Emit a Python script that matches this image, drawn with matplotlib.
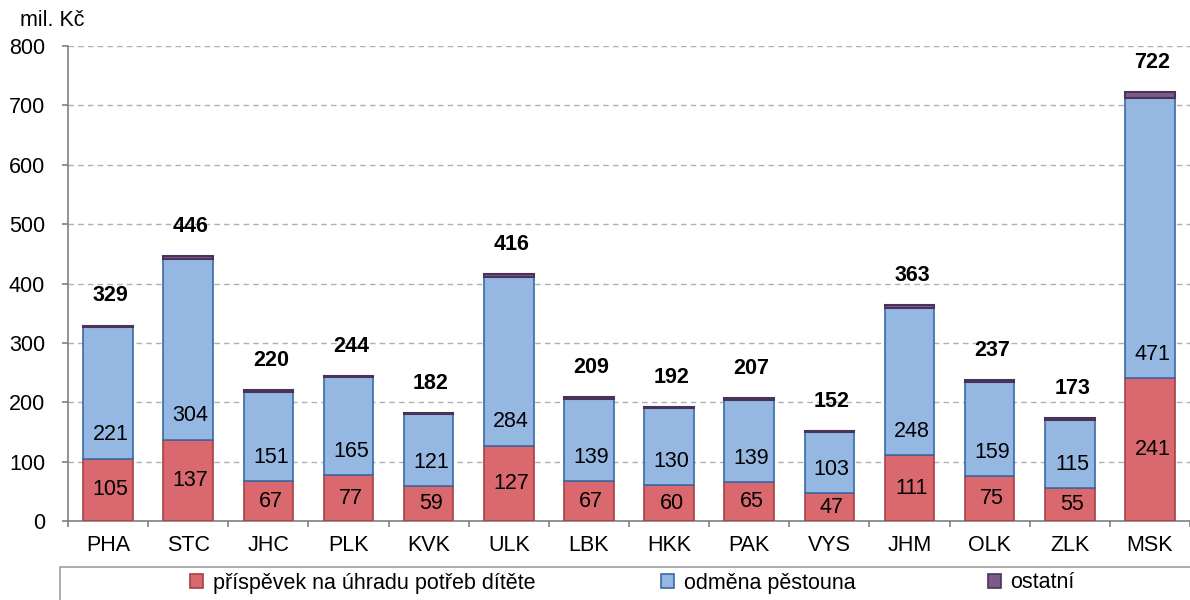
import matplotlib
matplotlib.use('Agg')
import numpy as np
import matplotlib.pyplot as plt
from matplotlib.patches import Rectangle, Patch

plt.rcParams['font.family'] = ['Liberation Sans', 'DejaVu Sans']

kraje = ['PHA', 'STC', 'JHC', 'PLK', 'KVK', 'ULK', 'LBK', 'HKK', 'PAK', 'VYS', 'JHM', 'OLK', 'ZLK', 'MSK']
prispevek = [105, 137, 67, 77, 59, 127, 67, 60, 65, 47, 111, 75, 55, 241]
odmena = [221, 304, 151, 165, 121, 284, 139, 130, 139, 103, 248, 159, 115, 471]
celkem = [329, 446, 220, 244, 182, 416, 209, 192, 207, 152, 363, 237, 173, 722]
ostatni = [c - p - o for c, p, o in zip(celkem, prispevek, odmena)]

nazvy = ['příspěvek na úhradu potřeb dítěte', 'odměna pěstouna', 'ostatní']
barvy = ['#D9686F', '#95B8E3', '#7E5A8A']
okraje = ['#A8403F', '#3A68A6', '#4A3358']

fs = 15.5

fig = plt.figure(figsize=(11.9, 6), dpi=100)
ax = fig.add_axes([68/1190, 1-521/600, 1-68/1190, (521-46)/600])

x = np.arange(len(kraje))
w = 0.62
ax.bar(x, prispevek, w, color=barvy[0], edgecolor=okraje[0], linewidth=1.2, zorder=3)
ax.bar(x, odmena, w, bottom=prispevek, color=barvy[1], edgecolor=okraje[1], linewidth=1.2, zorder=3)
dno = np.array(prispevek) + np.array(odmena)
ax.bar(x, ostatni, w, bottom=dno, color=barvy[2], edgecolor=okraje[2], linewidth=1.5, zorder=3)

for i in range(len(kraje)):
    ax.text(x[i] + 0.03, prispevek[i] / 2, str(prispevek[i]), ha='center', va='center', fontsize=fs, zorder=4)
    ax.text(x[i] + 0.03, prispevek[i] + 40, str(odmena[i]), ha='center', va='center', fontsize=fs, zorder=4)
    ax.text(x[i] + 0.03, celkem[i] + 50, str(celkem[i]), ha='center', va='center', fontsize=fs,
            fontweight='bold', zorder=4)

ax.set_xlim(-0.5, len(kraje) - 0.6)
ax.set_ylim(0, 800)
ax.set_yticks(range(0, 801, 100))
ax.yaxis.grid(True, linestyle=(0, (4, 3)), color='#B0B0B0', linewidth=1, zorder=0)
ax.set_xticks(x)
ax.set_xticklabels(kraje, fontsize=fs)
ax.set_xticks(np.arange(-0.5, len(kraje)), minor=True)
ax.tick_params(axis='x', which='major', length=0, pad=10)
ax.tick_params(axis='x', which='minor', length=4.5, color='#808080', width=1.2)
ax.tick_params(axis='y', labelsize=fs, length=4.5, color='#808080', width=1.2, pad=12)
for s in ['top', 'right']:
    ax.spines[s].set_visible(False)
for s in ['left', 'bottom']:
    ax.spines[s].set_color('#808080')
    ax.spines[s].set_linewidth(1.2)

fig.text(20/1190, 1-20/600, 'mil. Kč', fontsize=fs, va='center', ha='left')

# rámeček legendy
fig.patches.append(Rectangle((60/1190, -0.1), 1.0, 0.1 + (600-567)/600, transform=fig.transFigure,
                             facecolor='white', edgecolor='#A0A0A0', linewidth=1.2))
pozice = [190/1190, 661/1190, 988/1190]
for nazev, bc, ec, px in zip(nazvy, barvy, okraje, pozice):
    fig.legend([Patch(facecolor=bc, edgecolor=ec, linewidth=1.2)], [nazev], loc='center left',
               bbox_to_anchor=(px, 1-583/600), frameon=False, fontsize=fs,
               handlelength=0.6, handleheight=0.6, handletextpad=0.45, borderpad=0, borderaxespad=0)

fig.savefig('out.png', dpi=100)
